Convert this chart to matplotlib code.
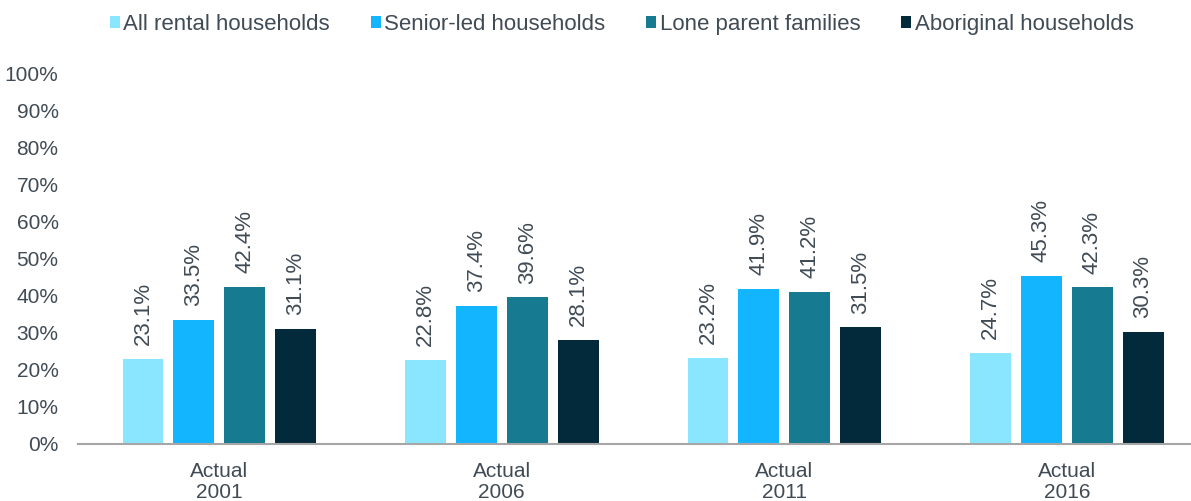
import matplotlib.pyplot as plt
import numpy as np

plt.rcParams['font.family'] = ['Liberation Sans', 'DejaVu Sans']

categories = ['Actual\n2001', 'Actual\n2006', 'Actual\n2011', 'Actual\n2016']
series_names = ['All rental households', 'Senior-led households',
                'Lone parent families', 'Aboriginal households']
all_rental = [23.1, 22.8, 23.2, 24.7]
senior_led = [33.5, 37.4, 41.9, 45.3]
lone_parent = [42.4, 39.6, 41.2, 42.3]
aboriginal = [31.1, 28.1, 31.5, 30.3]
colors = ['#8AE6FF', '#13B5FF', '#167A91', '#022A3A']

text_color = '#404B55'

fig = plt.figure(figsize=(11.91, 5.01), dpi=100)
ax = fig.add_axes([0.0655, 0.1138, 0.9488, 0.7386])

x = np.arange(len(categories))
width = 0.145
step = 0.18
values = [all_rental, senior_led, lone_parent, aboriginal]
for i, (name, vals, c) in enumerate(zip(series_names, values, colors)):
    pos = x + (i - 1.5) * step
    ax.bar(pos, vals, width, color=c, label=name, zorder=2)
    for px, v in zip(pos, vals):
        ax.annotate(f'{v:.1f}%', (px, v), xytext=(0, 10),
                    textcoords='offset points', rotation=90,
                    ha='center', va='bottom', fontsize=16, color=text_color)

ax.set_xlim(-0.5, 3.5)
ax.set_ylim(0, 100)
ax.set_yticks(range(0, 101, 10))
ax.set_yticklabels([f'{t}%' for t in range(0, 101, 10)],
                   fontsize=15, color=text_color)
ax.set_xticks(x)
ax.set_xticklabels(categories, fontsize=15, color=text_color,
                   linespacing=1.1)
ax.tick_params(axis='both', length=0)
ax.tick_params(axis='y', pad=14)
ax.tick_params(axis='x', pad=13)
for side in ['top', 'right', 'left']:
    ax.spines[side].set_visible(False)
ax.spines['bottom'].set_color('#A6A6A6')
ax.spines['bottom'].set_linewidth(1.5)

fig.legend(loc='center', bbox_to_anchor=(0.522, 0.952),
           ncol=4, frameon=False, fontsize=16, handlelength=0.45,
           handleheight=0.45, handletextpad=0.15, columnspacing=1.85,
           labelcolor=text_color)

fig.savefig('out.png', dpi=100)
